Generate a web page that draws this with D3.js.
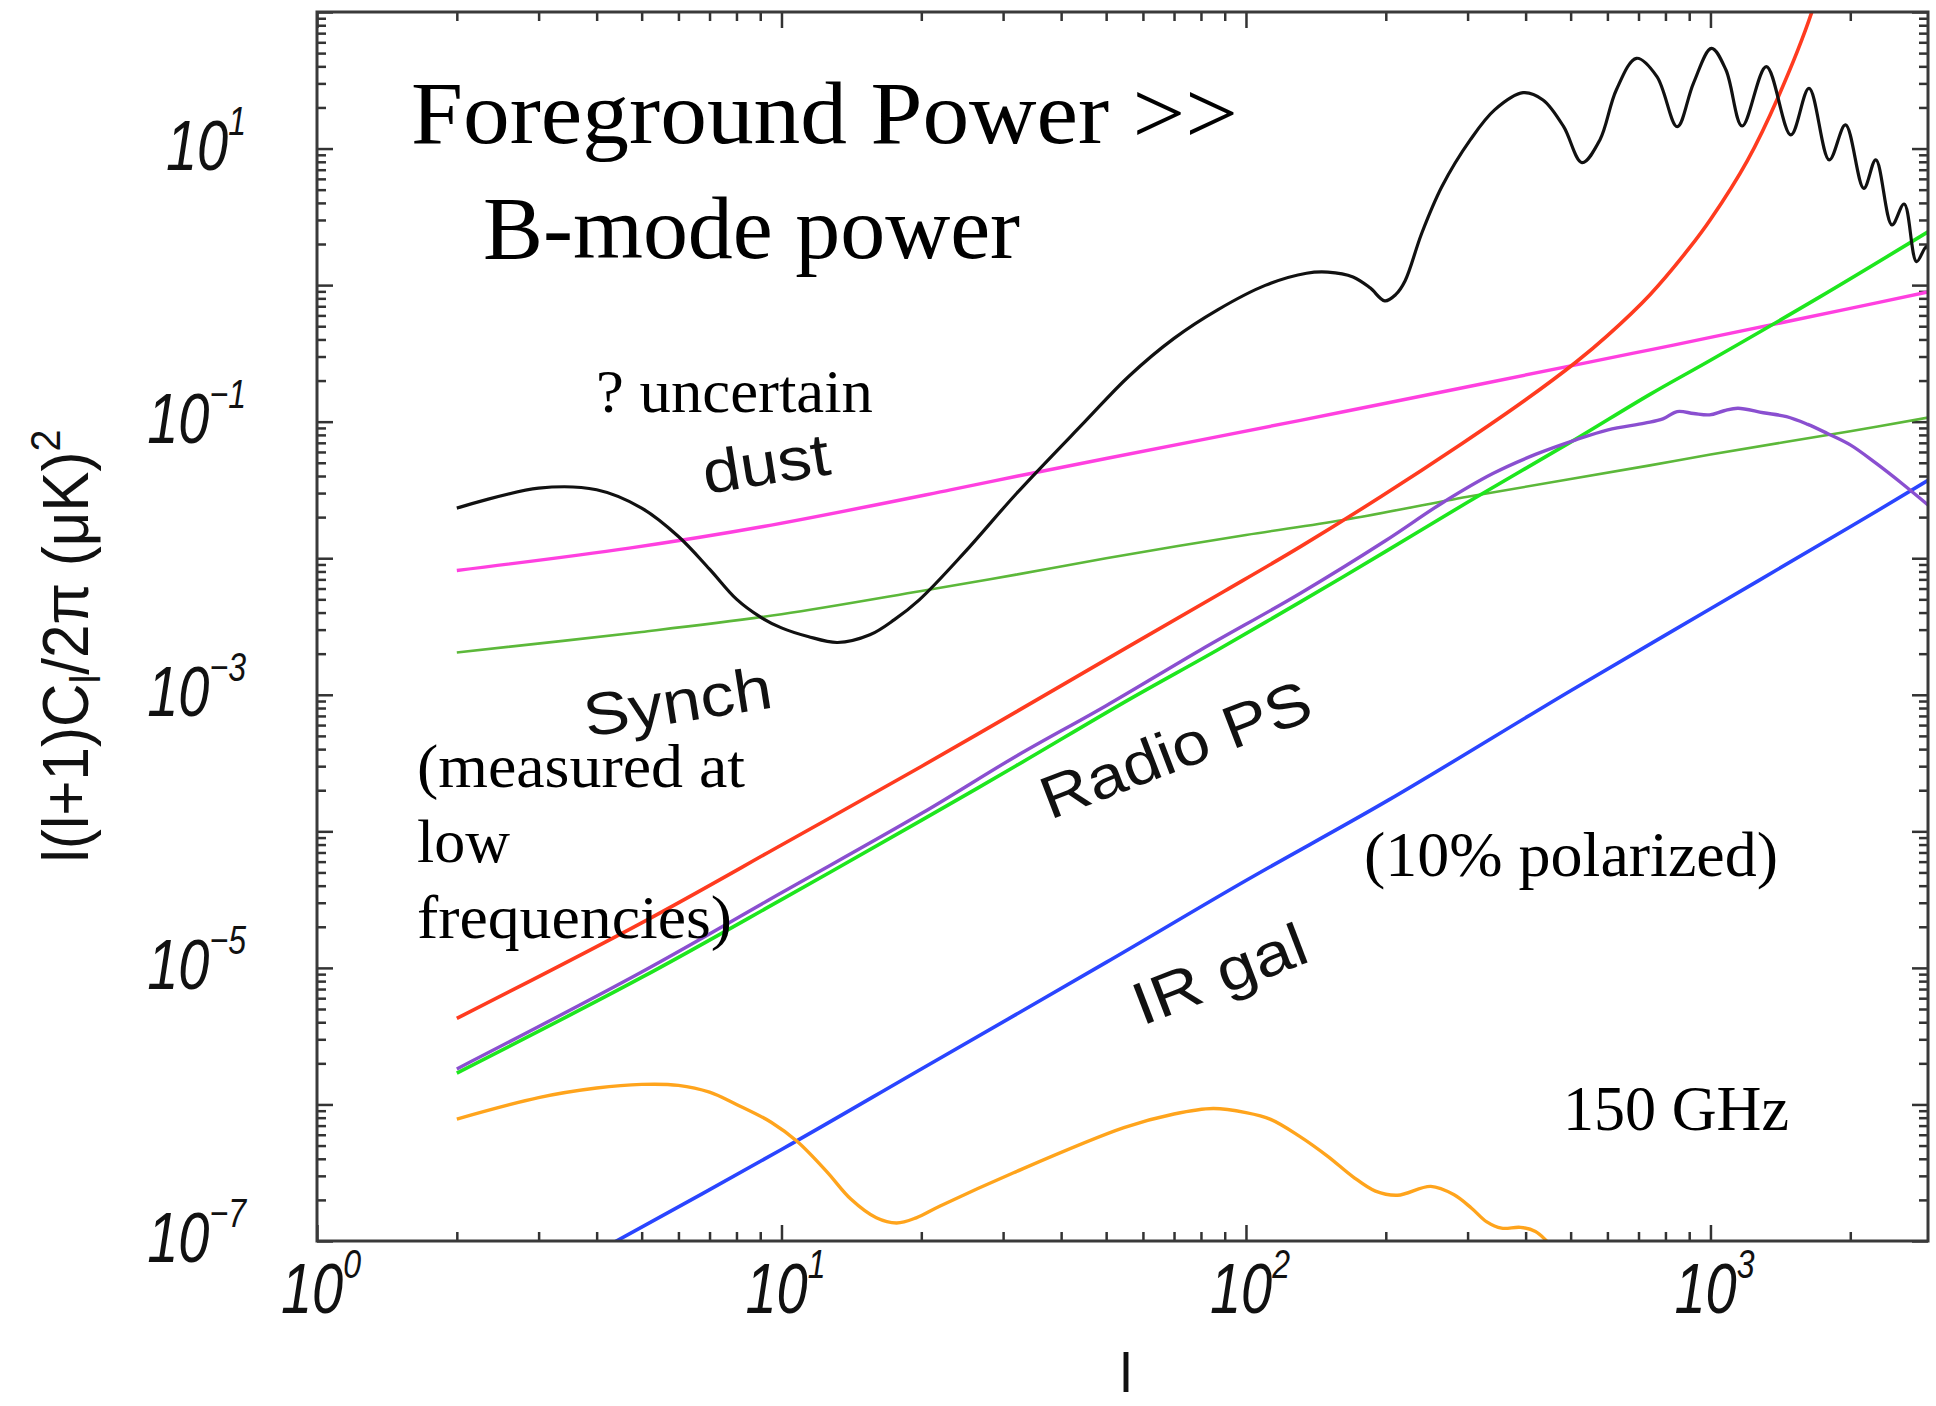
<!DOCTYPE html>
<html>
<head>
<meta charset="utf-8">
<script src="https://cdn.jsdelivr.net/npm/d3@7"></script>
<style>
  body { margin: 0; background: #fff; }
  svg { display: block; }
</style>
</head>
<body>
<svg id="chart" width="1936" height="1406"></svg>
<script>
// [l, log10 of l(l+1)C_l/2pi in uK^2]
const cmb = [[2,-1.633],[3,-1.487],[4,-1.499],[5,-1.633],[6,-1.841],[7,-2.08],[8,-2.3],[9,-2.43],[10,-2.51],[11.4,-2.573],[13.2,-2.617],[15.5,-2.561],[17.5,-2.45],[19.8,-2.305],[24.7,-1.963],[32.1,-1.524],[45,-1.0],[55.9,-0.669],[70,-0.39],[86.9,-0.181],[110,-0.002],[135,0.087],[150,0.095],[170,0.06],[185,-0.02],[199,-0.115],[210,-0.07],[220,0.03],[239,0.38],[264,0.72],[304,1.063],[343,1.283],[395,1.409],[436,1.356],[483,1.16],[529,0.897],[578,1.063],[627,1.429],[693,1.661],[767,1.527],[848,1.16],[919,1.478],[1005,1.734],[1080,1.575],[1170,1.165],[1319,1.6],[1489,1.1],[1630,1.441],[1802,0.917],[1953,1.173],[2138,0.709],[2270,0.917],[2459,0.441],[2612,0.594],[2778,0.172],[2918,0.282],[3000,0.0]];
const dust = [[2,-2.09],[4.7,-1.926],[9.14,-1.768],[23.1,-1.5],[32.1,-1.4],[50,-1.27],[131,-0.99],[200,-0.865],[513,-0.584],[741,-0.474],[1000,-0.383],[2000,-0.17],[2940,-0.05]];
const synch = [[2,-2.69],[5,-2.54],[10,-2.41],[20,-2.24],[32,-2.12],[50,-2.0],[100,-1.83],[162,-1.72],[300,-1.55],[500,-1.42],[741,-1.32],[1000,-1.24],[2000,-1.07],[2940,-0.97]];
const noise = [[2,-5.37],[5,-4.67],[10,-4.1],[20,-3.525],[32,-3.125],[55,-2.66],[90,-2.24],[131,-1.915],[195,-1.55],[292,-1.16],[400,-0.84],[513,-0.565],[600,-0.37],[741,-0.07],[900,0.27],[1000,0.48],[1200,0.91],[1400,1.38],[1653,2.0],[1800,2.45]];
const radioPS = [[2,-5.77],[5,-5.07],[10,-4.5],[20,-3.92],[32,-3.52],[55,-3.05],[87,-2.67],[131,-2.32],[200,-1.95],[300,-1.59],[500,-1.15],[741,-0.8],[1000,-0.55],[1713,-0.09],[2940,0.39]];
const psTotal = [[2,-5.74],[5,-5.03],[10,-4.45],[20,-3.87],[32,-3.45],[50,-3.08],[80,-2.67],[131,-2.256],[200,-1.87],[264,-1.597],[340,-1.38],[420,-1.24],[513,-1.133],[602,-1.06],[722,-1.011],[790,-0.98],[848,-0.926],[920,-0.94],[995,-0.95],[1070,-0.92],[1146,-0.902],[1300,-0.935],[1458,-0.963],[1620,-1.02],[1782,-1.085],[2000,-1.17],[2271,-1.304],[2600,-1.46],[2940,-1.61]];
const irGal = [[4,-7.08],[10,-6.33],[20,-5.74],[50,-4.96],[100,-4.36],[203,-3.77],[500,-2.97],[1000,-2.37],[2000,-1.77],[2940,-1.43]];
const bmode = [[2,-6.107],[3,-5.95],[4,-5.88],[5,-5.853],[6,-5.86],[7,-5.91],[8,-6.0],[9.5,-6.13],[10.8,-6.27],[12.5,-6.49],[14.1,-6.693],[16,-6.83],[17.7,-6.868],[19.5,-6.83],[21.9,-6.745],[31.6,-6.5],[54.6,-6.17],[70,-6.07],[85,-6.03],[100,-6.06],[113,-6.109],[130,-6.23],[150,-6.38],[170,-6.53],[190,-6.635],[212,-6.665],[250,-6.6],[280,-6.66],[306,-6.76],[330,-6.86],[355,-6.906],[390,-6.9],[420,-6.93],[444,-7.0],[480,-7.12]];

const xTickExp = [0, 1, 2, 3];
const yTickExp = [1, -1, -3, -5, -7];

const plot = { left: 317, top: 12, right: 1928, bottom: 1241 };

let svg = d3.select("#chart");

let x = d3.scaleLog().domain([1, 2940]).range([plot.left, plot.right]);
let y = d3.scaleLog().domain([1e-7, 1e2]).range([plot.bottom, plot.top]);

svg.append("defs").append("clipPath").attr("id", "clip")
  .append("rect")
  .attr("x", plot.left).attr("y", plot.top)
  .attr("width", plot.right - plot.left)
  .attr("height", plot.bottom - plot.top);

// ticks (all inward)
let xAll = x.ticks(30);
let yAll = y.ticks(40);
let isMajor = function (v) { return Math.abs(Math.log10(v) - Math.round(Math.log10(v))) < 1e-9; };
let xMaj = xAll.filter(isMajor), xMin = xAll.filter(function (v) { return !isMajor(v); });
let yMaj = yAll.filter(isMajor), yMin = yAll.filter(function (v) { return !isMajor(v); });

function drawAxis(axis, tx, ty) {
  let g = svg.append("g").attr("class", "axis")
    .attr("transform", "translate(" + tx + "," + ty + ")")
    .call(axis);
  g.select(".domain").remove();
  g.selectAll("line").attr("stroke", "#333").attr("stroke-width", 2.5);
  g.selectAll("text").remove();
}
drawAxis(d3.axisBottom(x).tickValues(xMaj).tickSize(-16), 0, plot.bottom);
drawAxis(d3.axisBottom(x).tickValues(xMin).tickSize(-9), 0, plot.bottom);
drawAxis(d3.axisTop(x).tickValues(xMaj).tickSize(-16), 0, plot.top);
drawAxis(d3.axisTop(x).tickValues(xMin).tickSize(-9), 0, plot.top);
drawAxis(d3.axisLeft(y).tickValues(yMaj).tickSize(-16), plot.left, 0);
drawAxis(d3.axisLeft(y).tickValues(yMin).tickSize(-9), plot.left, 0);
drawAxis(d3.axisRight(y).tickValues(yMaj).tickSize(-16), plot.right, 0);
drawAxis(d3.axisRight(y).tickValues(yMin).tickSize(-9), plot.right, 0);

// curves
let line = d3.line()
  .x(function (d) { return x(d[0]); })
  .y(function (d) { return y(Math.pow(10, d[1])); })
  .curve(d3.curveCatmullRom.alpha(0.5));

let series = [
  { data: synch, color: "#5cb83a", width: 2.6 },
  { data: dust, color: "#ff40e0", width: 3.4 },
  { data: irGal, color: "#2a45ff", width: 3.6 },
  { data: bmode, color: "#ffa41c", width: 3.4 },
  { data: radioPS, color: "#1ee61e", width: 3.6 },
  { data: psTotal, color: "#8a4fd0", width: 3.4 },
  { data: noise, color: "#ff3b1f", width: 3.6 },
  { data: cmb, color: "#111", width: 3.2 }
];

svg.append("g").attr("clip-path", "url(#clip)")
  .selectAll("path")
  .data(series)
  .join("path")
  .attr("d", function (d) { return line(d.data); })
  .attr("fill", "none")
  .attr("stroke", function (d) { return d.color; })
  .attr("stroke-width", function (d) { return d.width; })
  .attr("stroke-linejoin", "round");

// frame
svg.append("rect")
  .attr("x", plot.left).attr("y", plot.top)
  .attr("width", plot.right - plot.left)
  .attr("height", plot.bottom - plot.top)
  .attr("fill", "none")
  .attr("stroke", "#3a3a3a")
  .attr("stroke-width", 3);

// tick labels: italic 10 with exponent
function powLabel(g, exp, anchor) {
  let t = g.append("text")
    .attr("text-anchor", anchor)
    .attr("font-family", "Liberation Sans, Arial, sans-serif")
    .attr("font-style", "italic")
    .attr("fill", "#111");
  t.append("tspan").attr("font-size", 70).text("10");
  t.append("tspan").attr("font-size", 40).attr("dy", -35)
    .text(exp < 0 ? "\u2212" + (-exp) : String(exp));
}

svg.append("g").selectAll("g")
  .data(xTickExp)
  .join("g")
  .attr("transform", function (d) { return "translate(" + (x(Math.pow(10, d)) + 4) + ",1313) scale(0.8,1)"; })
  .each(function (d) { powLabel(d3.select(this), d, "middle"); });

svg.append("g").selectAll("g")
  .data(yTickExp)
  .join("g")
  .attr("transform", function (d) { return "translate(246," + (y(Math.pow(10, d)) + 21) + ") scale(0.8,1)"; })
  .each(function (d) { powLabel(d3.select(this), d, "end"); });

// axis titles
let yTitle = svg.append("text")
  .attr("transform", "translate(88,646) rotate(-90)")
  .attr("text-anchor", "middle")
  .attr("font-family", "Liberation Sans, Arial, sans-serif")
  .attr("font-size", 64)
  .attr("fill", "#111")
  .attr("textLength", 433)
  .attr("lengthAdjust", "spacingAndGlyphs");
yTitle.append("tspan").text("l(l+1)C");
yTitle.append("tspan").attr("font-size", 42).attr("dy", 12).text("l");
yTitle.append("tspan").attr("dy", -12).text("/2\u03c0 (\u03bcK)");
yTitle.append("tspan").attr("font-size", 42).attr("dy", -28).text("2");

svg.append("text")
  .attr("x", 1126).attr("y", 1392)
  .attr("text-anchor", "middle")
  .attr("font-family", "Liberation Sans, Arial, sans-serif")
  .attr("font-size", 56)
  .attr("fill", "#111")
  .text("l");

// serif annotations
const notes = [
  { text: "Foreground Power >>", x: 411, y: 143, size: 88, len: 827 },
  { text: "B-mode power", x: 483, y: 258, size: 88, len: 537 },
  { text: "? uncertain", x: 596, y: 412, size: 62, len: 277 },
  { text: "(measured at", x: 417, y: 787, size: 62, len: 328 },
  { text: "low", x: 417, y: 862, size: 62, len: 93 },
  { text: "frequencies)", x: 417, y: 938, size: 62, len: 315 },
  { text: "(10% polarized)", x: 1364, y: 876, size: 63, len: 414 },
  { text: "150 GHz", x: 1563, y: 1130, size: 63, len: 226 }
];
svg.append("g").selectAll("text")
  .data(notes)
  .join("text")
  .attr("x", function (d) { return d.x; })
  .attr("y", function (d) { return d.y; })
  .attr("font-family", "Liberation Serif, Times New Roman, serif")
  .attr("font-size", function (d) { return d.size; })
  .attr("textLength", function (d) { return d.len; })
  .attr("lengthAdjust", "spacingAndGlyphs")
  .attr("fill", "#000")
  .text(function (d) { return d.text; });

// rotated curve labels
const tags = [
  { text: "dust", x: 706, y: 494, angle: -9, len: 128 },
  { text: "Synch", x: 587, y: 737, angle: -9, len: 190 },
  { text: "Radio PS", x: 1050, y: 820, angle: -21, len: 285 },
  { text: "IR gal", x: 1142, y: 1026, angle: -21, len: 182 }
];
svg.append("g").selectAll("text")
  .data(tags)
  .join("text")
  .attr("transform", function (d) { return "translate(" + d.x + "," + d.y + ") rotate(" + d.angle + ")"; })
  .attr("font-family", "Liberation Sans, Arial, sans-serif")
  .attr("font-size", 60)
  .attr("textLength", function (d) { return d.len; })
  .attr("lengthAdjust", "spacingAndGlyphs")
  .attr("fill", "#111")
  .text(function (d) { return d.text; });
</script>
</body>
</html>
